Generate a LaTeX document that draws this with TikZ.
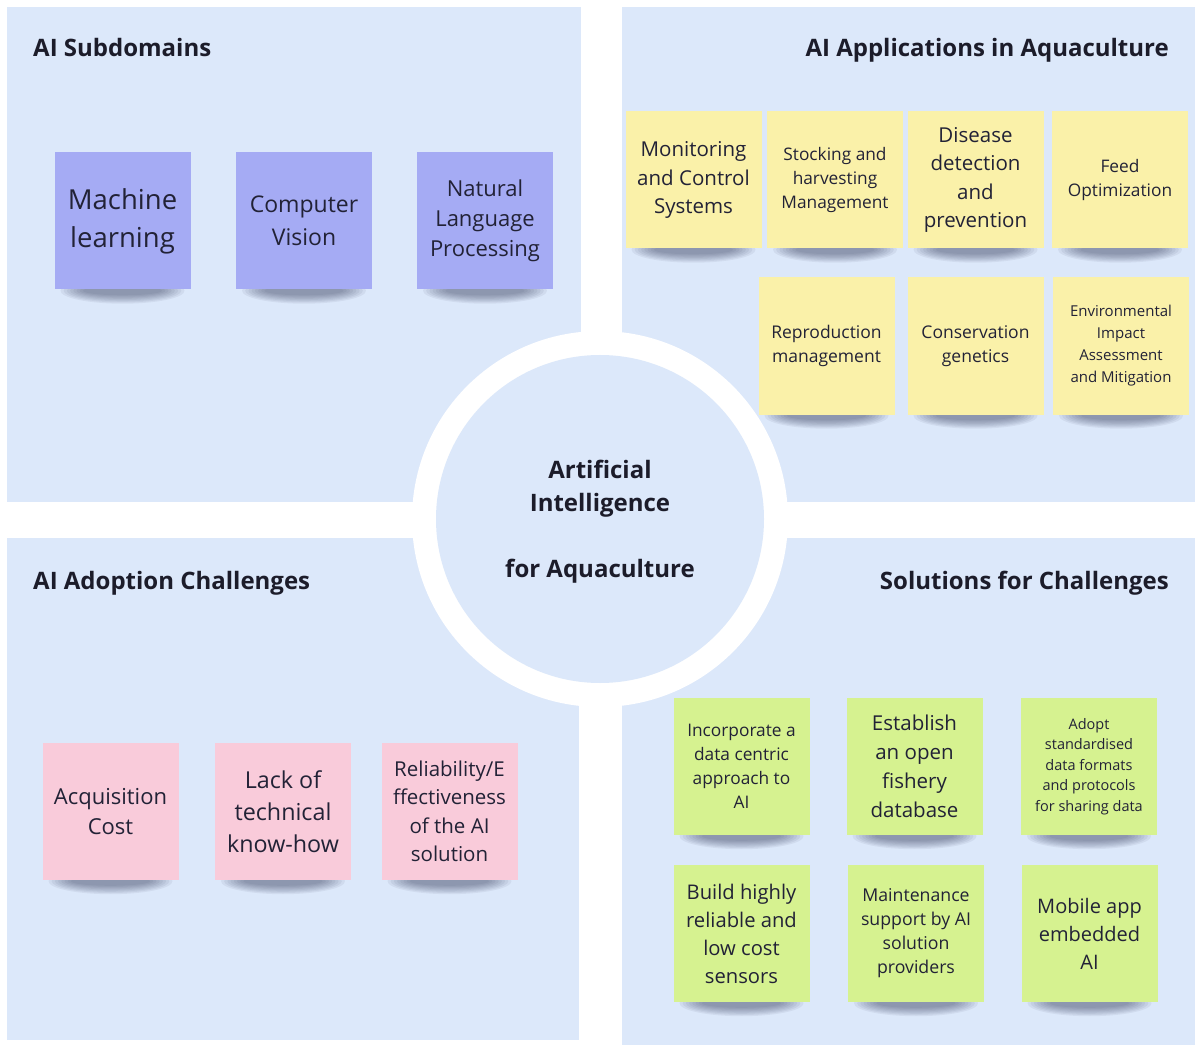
\documentclass[tikz,border=0pt]{standalone}
\usepackage{fontspec}
\setmainfont{Open Sans}
\pgfdeclarelayer{bglayer}
\pgfdeclarelayer{shadowlayer}
\pgfsetlayers{bglayer,shadowlayer,main}
\definecolor{panel}{HTML}{DCE8FA}
\definecolor{purpst}{HTML}{A5ABF4}
\definecolor{yelst}{HTML}{FAF1A9}
\definecolor{pinkst}{HTML}{F9CBDA}
\definecolor{grnst}{HTML}{D6F290}
\definecolor{ttl}{HTML}{1C1C2A}
\definecolor{stxt}{HTML}{222236}
\definecolor{shadowc}{HTML}{2A3050}
\tikzset{
  sticky/.style={minimum width=136pt, minimum height=137pt, inner sep=0pt,
    align=center, text=stxt},
  purple/.style={sticky, fill=purpst},
  yellow/.style={sticky, fill=yelst},
  pinkbox/.style={sticky, fill=pinkst},
  green/.style={sticky, fill=grnst},
  shadowstep/.style={fill=shadowc, opacity=0.065},
  title/.style={font=\bfseries\fontsize{24}{30}\selectfont, text=ttl, inner sep=0pt},
  fs/.style n args={2}{font=\fontsize{#1}{#2}\selectfont},
}
\begin{document}
\begin{tikzpicture}[x=1pt,y=-1pt]
\begin{pgfonlayer}{bglayer}
\useasboundingbox[fill=white] (0,0) rectangle (1200,1059);
% panels
\fill[panel] (7,7) rectangle (581,502);
\fill[panel] (622,7) rectangle (1195,502);
\fill[panel] (7,538) rectangle (579,1040);
\fill[panel] (622,538) rectangle (1195,1045);
% hub ring
\fill[white] (600,519) circle (188);
\end{pgfonlayer}
\node[circle, fill=panel, minimum size=328pt, inner sep=0pt] (hub) at (600,519) {};
\node[font=\bfseries\fontsize{24}{33}\selectfont, text=ttl, align=center] (hubtext) at (600,522)
  {Artificial\\Intelligence\\[33pt]for Aquaculture};
% titles
\node[title, anchor=base west] (t1) at (33,57) {AI Subdomains};
\node[title, anchor=base east] (t2) at (1169,57) {AI Applications in Aquaculture};
\node[title, anchor=base west] (t3) at (33,589) {AI Adoption Challenges};
\node[title, anchor=base east] (t4) at (1169,589) {Solutions for Challenges};
% AI subdomains
\node[purple, fs={27.5}{38}] (ml) at (122.5,221) {Machine\\learning};
\node[purple, fs={23}{33}] (cv) at (304,221) {Computer\\Vision};
\node[purple, fs={22}{30}] (nlp) at (485,221) {Natural\\Language\\Processing};
% applications
\node[yellow, fs={20.5}{28.5}] (mon) at (693.5,180) {Monitoring\\and Control\\Systems};
\node[yellow, fs={17.3}{24}] (stock) at (835,180) {Stocking and\\harvesting\\Management};
\node[yellow, fs={20.5}{28.5}] (dis) at (975.5,180) {Disease\\detection\\and\\prevention};
\node[yellow, fs={17.3}{24}] (feed) at (1120,180) {Feed\\Optimization};
\node[yellow, fs={17.5}{24}] (repr) at (826.5,346) {Reproduction\\management};
\node[yellow, fs={17.5}{24}] (cons) at (975.5,346) {Conservation\\genetics};
\node[yellow, fs={15}{22}] (env) at (1121,346) {Environmental\\Impact\\Assessment\\and Mitigation};
% challenges
\node[pinkbox, fs={22}{30}] (acq) at (110.5,811.5) {Acquisition\\Cost};
\node[pinkbox, fs={23.3}{32}] (lack) at (283,811.5) {Lack of\\technical\\know-how};
\node[pinkbox, fs={20.5}{28.5}] (rel) at (449.5,811.5) {Reliability/E\\ffectiveness\\of the AI\\solution};
% solutions
\node[green, fs={17.3}{24}] (inc) at (741.5,766.5) {Incorporate a\\data centric\\approach to\\AI};
\node[green, fs={20.5}{29}] (est) at (914.5,766.5) {Establish\\an open\\fishery\\database};
\node[green, fs={14.5}{20.5}] (adopt) at (1089,766.5) {Adopt\\standardised\\data formats\\and protocols\\for sharing data};
\node[green, fs={20.2}{28}] (build) at (741.5,933.5) {Build highly\\reliable and\\low cost\\sensors};
\node[green, fs={17.7}{24}] (maint) at (916,933.5) {Maintenance\\support by AI\\solution\\providers};
\node[green, fs={20}{28}] (mob) at (1089.5,933.5) {Mobile app\\embedded\\AI};
% soft shadows under the stickies
\begin{pgfonlayer}{shadowlayer}
\foreach \n in {ml,cv,nlp,mon,stock,dis,feed,repr,cons,env,acq,lack,rel,inc,est,adopt,build,maint,mob}{
  \foreach \k in {0,...,7}{
    \fill[shadowstep] ([yshift=-1pt]\n.south) ellipse ({62-3.2*\k} and {13-1.2*\k});
  }
}
\end{pgfonlayer}
\end{tikzpicture}
\end{document}
